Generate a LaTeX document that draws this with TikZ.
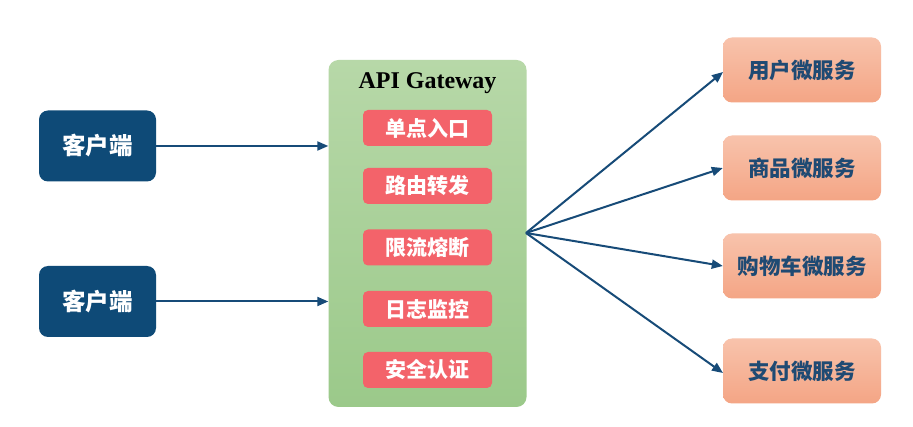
\documentclass[tikz,border=0pt]{standalone}
\usepackage{fontspec}
\setmainfont{Liberation Serif}
\newfontfamily\cjk{Noto Sans CJK SC}
\usetikzlibrary{arrows.meta}
\definecolor{navy}{HTML}{0E4A77}
\definecolor{linec}{HTML}{174B78}
\definecolor{gtop}{HTML}{B7D8A8}
\definecolor{gbot}{HTML}{9BC98A}
\definecolor{redbox}{HTML}{F3636A}
\definecolor{stop}{HTML}{F8C3AC}
\definecolor{sbot}{HTML}{F4A585}
\definecolor{stext}{HTML}{1F4A73}
\tikzset{
  x=1pt,y=-1pt,
  client/.style={draw=none,fill=navy,rounded corners=9pt,minimum width=117pt,minimum height=71pt,
    font=\cjk\bfseries\fontsize{23.5}{24}\selectfont,text=white},
  func/.style={draw=none,fill=redbox,rounded corners=5pt,minimum width=129pt,minimum height=36pt,
    font=\cjk\bfseries\fontsize{21}{21}\selectfont,text=white},
  svc/.style={draw=none,top color=stop,bottom color=sbot,rounded corners=9pt,minimum width=158pt,minimum height=65pt,
    font=\cjk\bfseries\fontsize{21.5}{22}\selectfont,text=stext},
  gw/.style={draw=none,top color=gtop,bottom color=gbot,rounded corners=10pt,minimum width=198pt,minimum height=347pt},
  conn/.style={draw=linec,line width=2pt,-{Triangle[length=11pt,width=9pt]}}
}
\begin{document}
\begin{tikzpicture}
\useasboundingbox (0,0) rectangle (913,427);
\fill[white] (0,0) rectangle (913,427);
\node[client] (c1) at (97.5,146) {客户端};
\node[client] (c2) at (97.5,301.5) {客户端};
\node[gw] (gw) at (427.5,233.5) {};
\node[font=\bfseries\fontsize{24}{24}\selectfont] (gwt) at (427.5,83) {API Gateway};
\node[func] (f1) at (427.5,128) {单点入口};
\node[func] (f2) at (427.5,186) {路由转发};
\node[func] (f3) at (427.5,247.5) {限流熔断};
\node[func] (f4) at (427.5,309) {日志监控};
\node[func] (f5) at (427.5,370) {安全认证};
\node[svc] (s1) at (802,70) {用户微服务};
\node[svc] (s2) at (802,168) {商品微服务};
\node[svc] (s3) at (802,266) {购物车微服务};
\node[svc] (s4) at (802,371) {支付微服务};
\coordinate (hub) at (526,233);
\draw[conn] (c1.east) -- (c1.east -| gw.west);
\draw[conn] (c2.east) -- (c2.east -| gw.west);
\draw[conn] (hub) -- (723,72);
\draw[conn] (hub) -- (s2.west);
\draw[conn] (hub) -- (s3.west);
\draw[conn] (hub) -- (723,373);
\end{tikzpicture}
\end{document}
